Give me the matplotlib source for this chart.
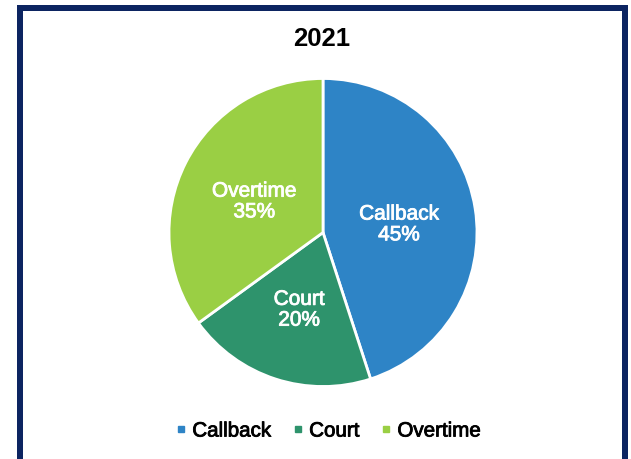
import matplotlib
matplotlib.use("Agg")
import matplotlib.pyplot as plt
from matplotlib.patches import Rectangle
from matplotlib.lines import Line2D
from matplotlib.transforms import IdentityTransform
import matplotlib.patheffects as pe

plt.rcParams['font.family'] = ['Liberation Sans', 'DejaVu Sans']

title = "2021"
categories = ["Callback", "Court", "Overtime"]
values = [45, 20, 35]
colors = ["#2E84C6", "#2E936C", "#9ACF44"]

W, H = 631, 459
fig = plt.figure(figsize=(W / 100, H / 100), dpi=100)
fig.patch.set_facecolor("white")

lw_px = 6
fx0, fy0 = 20, 8
fx1, fy1 = 625, 461
frame = Rectangle((fx0, H - fy1), fx1 - fx0, fy1 - fy0, fill=False,
                  edgecolor="#0C2461", linewidth=lw_px * 0.72,
                  transform=IdentityTransform(), figure=fig)
fig.patches.append(frame)

# pie axes: center (323, 232.5), radius 154 px
cx, cy, r = 323, 232.5, 154
ax = fig.add_axes([(cx - r) / W, (H - cy - r) / H, 2 * r / W, 2 * r / H])

label_iter = iter(categories)
def fmt(pct):
    return f"{next(label_iter)}\n{pct:.0f}%"

wedges, texts, autotexts = ax.pie(
    values, colors=colors, startangle=90, counterclock=False,
    autopct=fmt, pctdistance=0.5,
    wedgeprops=dict(edgecolor="white", linewidth=2.0),
    textprops=dict(color="white", fontsize=15, linespacing=1.12))
for w in wedges:
    w.set_clip_on(False)
for t in autotexts:
    x, y = t.get_position()
    t.set_position((x, y - 4 / r))
    t.set_path_effects([pe.withStroke(linewidth=0.6, foreground="white")])
ax.set_xlim(-1, 1)
ax.set_ylim(-1, 1)
ax.set_aspect("equal")

fig.text(322 / W, 1 - 39 / H, title, ha="center", va="center",
         fontsize=18.5, fontweight="bold", color="black")

handles = [Line2D([], [], marker="s", linestyle="none", markersize=6 * 0.72,
                  markerfacecolor=c, markeredgecolor=c) for c in colors]
leg = fig.legend(handles, categories, loc="center", bbox_to_anchor=(327.5 / W, 1 - 431 / H),
                 ncol=3, frameon=False, fontsize=14.8, handlelength=0.6,
                 handletextpad=0.26, columnspacing=1.0, borderpad=0)
for t in leg.get_texts():
    t.set_path_effects([pe.withStroke(linewidth=0.6, foreground="black")])

fig.savefig("out.png", dpi=100)
